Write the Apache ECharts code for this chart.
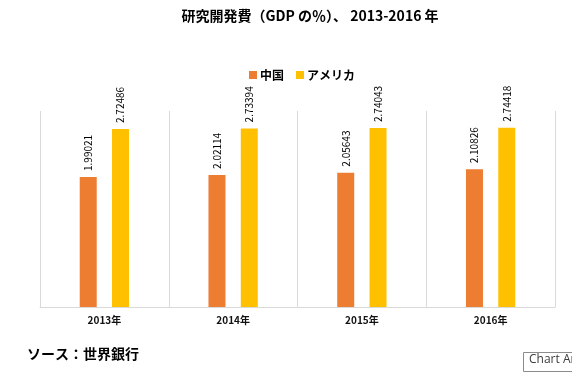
<!DOCTYPE html>
<html><head><meta charset="utf-8">
<script src="https://cdn.jsdelivr.net/npm/echarts@6/dist/echarts.min.js"></script>
<style>html,body{margin:0;padding:0;background:#fff}#c{width:572px;height:372px}</style>
</head><body><div id="c"></div>
<script>
const categories = ['2013年', '2014年', '2015年', '2016年'];
const chinaValues = [1.99021, 2.02114, 2.05643, 2.10826];
const usaValues = [2.72486, 2.73394, 2.74043, 2.74418];
const seriesNames = ['中国', 'アメリカ'];
const titleText = '研究開発費（GDP の％）、 2013-2016 年';
const sourceText = 'ソース：世界銀行';

const font = '"Noto Sans CJK JP", "Noto Sans", sans-serif';
const chart = echarts.init(document.getElementById('c'), null, {renderer: 'canvas'});
const labelCfg = {
  show: true, position: 'top', rotate: 90, align: 'left', verticalAlign: 'middle',
  distance: 6, color: '#000', fontSize: 10, fontFamily: font,
  formatter: p => String(p.value)
};
chart.setOption({
  animation: false,
  backgroundColor: '#fff',
  title: {
    text: titleText, left: 305, top: 4, textAlign: 'center',
    textStyle: {fontSize: 14, fontWeight: 'bold', color: '#000', fontFamily: font}
  },
  legend: {
    data: seriesNames, top: 64, left: 244,
    itemWidth: 8, itemHeight: 8, itemGap: 12, icon: 'rect',
    textStyle: {fontSize: 12, fontWeight: 'bold', color: '#000', fontFamily: font, padding: [0, 0, 0, -2]}
  },
  grid: {left: 40, right: 17, top: 111, bottom: 65, containLabel: false},
  xAxis: {
    type: 'category', data: categories, boundaryGap: true,
    axisLine: {show: true, lineStyle: {color: '#d9d9d9', width: 1}},
    axisTick: {show: false},
    splitLine: {show: true, lineStyle: {color: '#d9d9d9', width: 1}},
    axisLabel: {fontSize: 10, fontWeight: 'bold', color: '#111', fontFamily: font, margin: 8}
  },
  yAxis: {
    type: 'value', min: 0, max: 3, show: false,
    splitLine: {show: false}
  },
  series: [
    {name: seriesNames[0], type: 'bar', data: chinaValues, barWidth: 17, barGap: '90%',
     itemStyle: {color: '#ED7D31'}, label: labelCfg},
    {name: seriesNames[1], type: 'bar', data: usaValues, barWidth: 17, barGap: '90%',
     itemStyle: {color: '#FFC000'}, label: labelCfg}
  ],
  graphic: [
    {type: 'text', left: 27, top: 347,
     style: {text: sourceText, fontSize: 14, fontWeight: 'bold', fill: '#000', fontFamily: font}},
    {type: 'rect', shape: {x: 523.5, y: 352.5, width: 60, height: 19},
     style: {fill: '#fff', stroke: '#8c8c8c', lineWidth: 1}},
    {type: 'text', x: 529, y: 354,
     style: {text: 'Chart Area', fontSize: 12, fill: '#3b3b3b', fontFamily: '"Open Sans", "DejaVu Sans", sans-serif'}}
  ]
});
</script></body></html>
